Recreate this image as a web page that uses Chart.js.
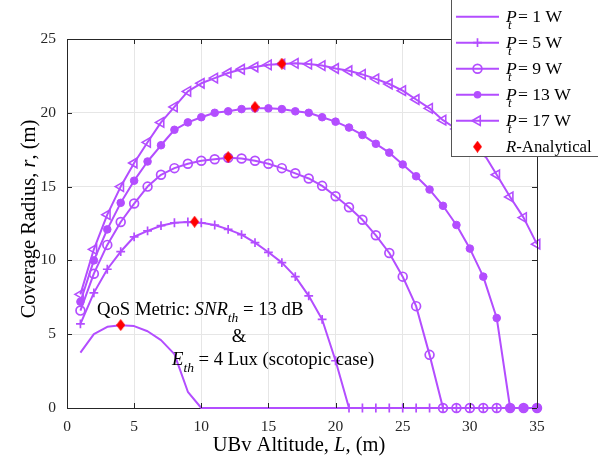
<!DOCTYPE html>
<html>
<head>
<meta charset="utf-8">
<script src="https://cdn.jsdelivr.net/npm/chart.js@4.4.1/dist/chart.umd.min.js"></script>
<style>
html,body{margin:0;padding:0;background:#ffffff;}
#wrap{width:598px;height:457px;position:relative;}
canvas{display:block;}
</style>
</head>
<body>
<div id="wrap"><canvas id="c" width="598" height="457"></canvas></div>
<script>
// ---- data ----
const altitude = [1,2,3,4,5,6,7,8,9,10,11,12,13,14,15,16,17,18,19,20,21,22,23,24,25,26,27,28,29,30,31,32,33,34,35];
const radiusP1 = [3.75,5.0,5.5,5.6,5.55,5.2,4.6,3.65,1.1,0,0,0,0,0,0,0,0,0,0,0,0,0,0,0,0,0,0,0,0,0,0,0,0,0,0];
const radiusP5 = [5.7,7.8,9.4,10.6,11.6,12.0,12.35,12.55,12.6,12.55,12.4,12.1,11.75,11.2,10.55,9.85,8.9,7.6,6.0,3.2,0,0,0,0,0,0,0,0,0,0,0,0,0,0,0];
const radiusP9 = [6.6,9.1,11.05,12.6,13.85,15.0,15.8,16.25,16.55,16.75,16.85,16.95,16.9,16.75,16.55,16.25,15.9,15.55,15.05,14.35,13.6,12.75,11.7,10.5,8.9,6.9,3.6,0,0,0,0,0,0,0,0];
const radiusP13 = [7.2,10.0,12.1,13.9,15.4,16.7,17.8,18.85,19.35,19.7,20.0,20.1,20.25,20.3,20.3,20.25,20.1,20.0,19.7,19.4,19.0,18.5,17.9,17.3,16.5,15.7,14.8,13.7,12.4,10.8,8.9,6.1,0,0,0];
const radiusP17 = [7.7,10.75,13.1,15.0,16.6,18.0,19.35,20.4,21.45,22.0,22.35,22.7,22.95,23.1,23.25,23.3,23.35,23.3,23.2,23.0,22.85,22.6,22.3,21.95,21.5,20.9,20.3,19.5,18.9,18.2,17.3,15.8,14.3,12.9,11.1];
const analyticalL = [4, 9.5, 12, 14, 16];
const analyticalR = [5.62, 12.62, 17.0, 20.4, 23.33];
const powerLabels = ['1 W','5 W','9 W','13 W','17 W'];
const xTicks = [0,5,10,15,20,25,30,35];
const yTicks = [0,5,10,15,20,25];

// ---- styling ----
const purple = '#b34dff';
const FONT = '"Liberation Serif", "Times New Roman", serif';

function pts(xs, ys){ return xs.map((x,i)=>({x:x, y:ys[i]})); }

function makeDiamond(){
  const c = document.createElement('canvas');
  c.width = 9; c.height = 12;
  const g = c.getContext('2d');
  g.fillStyle = '#ff0000';
  g.beginPath();
  g.moveTo(4.5,0); g.lineTo(9,6); g.lineTo(4.5,12); g.lineTo(0,6); g.closePath();
  g.fill();
  return c;
}
const diamond = makeDiamond();

const common = {showLine:true, borderColor:purple, borderWidth:2, pointBorderColor:purple, clip:false, tension:0};

const datasets = [
  Object.assign({}, common, {label:'P1', data:pts(altitude, radiusP1), pointRadius:0, order:6}),
  Object.assign({}, common, {label:'P5', data:pts(altitude, radiusP5), pointStyle:'cross', pointRadius:4.4, pointBorderWidth:1.7, order:5}),
  Object.assign({}, common, {label:'P9', data:pts(altitude, radiusP9), pointStyle:'circle', pointRadius:4.4, pointBorderWidth:1.7, pointBackgroundColor:'rgba(0,0,0,0)', order:4}),
  Object.assign({}, common, {label:'P13', data:pts(altitude, radiusP13), pointStyle:'circle', pointRadius:3.8, pointBorderWidth:1, pointBackgroundColor:purple, order:3}),
  Object.assign({}, common, {label:'P17', data:pts(altitude, radiusP17), pointStyle:'triangle', pointRotation:-90, pointRadius:5.5, pointBorderWidth:1.6, pointBackgroundColor:'rgba(0,0,0,0)', order:2}),
  {label:'R', data:pts(analyticalL, analyticalR), showLine:false, pointStyle:diamond, pointRadius:6, clip:false, order:1}
];

function richText(ctx, x, y, parts, size){
  let cx = x;
  for (const p of parts){
    const fs = p.sub ? size*0.72 : size;
    ctx.font = (p.i ? 'italic ' : '') + fs.toFixed(1) + 'px ' + FONT;
    if (p.at !== undefined) cx = p.at;
    const dy = p.sub ? size*0.40 : 0;
    ctx.fillText(p.t, cx, y + dy);
    cx += ctx.measureText(p.t).width;
  }
  return cx;
}
function richWidth(ctx, parts, size){
  let w = 0;
  for (const p of parts){
    const fs = p.sub ? size*0.72 : size;
    ctx.font = (p.i ? 'italic ' : '') + fs.toFixed(1) + 'px ' + FONT;
    w += ctx.measureText(p.t).width;
  }
  return w;
}

function legendMarker(ctx, kind, x, y){
  ctx.save();
  ctx.strokeStyle = purple; ctx.fillStyle = purple;
  if (kind === 'cross'){
    ctx.lineWidth = 1.7; ctx.beginPath();
    ctx.moveTo(x-4.4,y); ctx.lineTo(x+4.4,y); ctx.moveTo(x,y-4.4); ctx.lineTo(x,y+4.4); ctx.stroke();
  } else if (kind === 'open'){
    ctx.lineWidth = 1.7; ctx.beginPath(); ctx.arc(x,y,4.4,0,Math.PI*2); ctx.stroke();
  } else if (kind === 'filled'){
    ctx.beginPath(); ctx.arc(x,y,3.8,0,Math.PI*2); ctx.fill();
  } else if (kind === 'tri'){
    const r = 5.5; ctx.lineWidth = 1.6; ctx.beginPath();
    for (let k=0;k<3;k++){
      const a = Math.PI + k*2*Math.PI/3;
      const px = x + Math.cos(a)*r, py = y + Math.sin(a)*r;
      if (k===0) ctx.moveTo(px,py); else ctx.lineTo(px,py);
    }
    ctx.closePath(); ctx.stroke();
  } else if (kind === 'diamond'){
    ctx.drawImage(diamond, x-4.5, y-6);
  }
  ctx.restore();
}

const deco = {
  id:'deco',
  afterDraw(chart){
    const ctx = chart.ctx, a = chart.chartArea, xs = chart.scales.x, ys = chart.scales.y;
    ctx.save();
    // box top & right
    ctx.strokeStyle = '#262626'; ctx.lineWidth = 1;
    ctx.beginPath();
    ctx.moveTo(a.left, a.top+0.5); ctx.lineTo(a.right+0.5, a.top+0.5); ctx.lineTo(a.right+0.5, a.bottom);
    ctx.stroke();
    // inner ticks
    ctx.beginPath();
    xTicks.forEach(v=>{
      const px = Math.round(xs.getPixelForValue(v))+0.5;
      ctx.moveTo(px, a.bottom); ctx.lineTo(px, a.bottom-5);
      ctx.moveTo(px, a.top); ctx.lineTo(px, a.top+5);
    });
    yTicks.forEach(v=>{
      const py = Math.round(ys.getPixelForValue(v))+0.5;
      ctx.moveTo(a.left, py); ctx.lineTo(a.left+5, py);
      ctx.moveTo(a.right, py); ctx.lineTo(a.right-5, py);
    });
    ctx.stroke();

    // annotation
    ctx.fillStyle = '#000000';
    ctx.textBaseline = 'alphabetic';
    ctx.textAlign = 'left';
    const S = 18.7;
    richText(ctx, 97, 315, [{t:'QoS Metric: '},{t:'SNR',i:true},{t:'th',i:true,sub:true},{t:' = 13 dB'}], S);
    ctx.font = S+'px '+FONT; ctx.textAlign='center';
    ctx.fillText('&', 239, 342);
    ctx.textAlign='left';
    richText(ctx, 172, 365, [{t:'E',i:true},{t:'th',i:true,sub:true},{t:' = 4 Lux (scotopic case)'}], S);

    // axis titles
    const LF = 20.5;
    const xl = [{t:'UBv Altitude, '},{t:'L',i:true},{t:', (m)'}];
    const xw = richWidth(ctx, xl, LF);
    richText(ctx, 299 - xw/2, 451, xl, LF);
    const yl = [{t:'Coverage Radius, '},{t:'r',i:true},{t:', (m)'}];
    const yw = richWidth(ctx, yl, LF);
    ctx.save();
    ctx.translate(35, 219);
    ctx.rotate(-Math.PI/2);
    richText(ctx, -yw/2, 0, yl, LF);
    ctx.restore();

    // legend
    ctx.fillStyle = '#ffffff';
    ctx.fillRect(452, -1, 147, 157);
    ctx.strokeStyle = '#555555'; ctx.lineWidth = 1;
    ctx.strokeRect(451.5, -1.5, 150, 158);
    const kinds = [null,'cross','open','filled','tri'];
    const LS = 17.6;
    for (let i=0;i<5;i++){
      const y = 16.7 + 26*i;
      ctx.strokeStyle = purple; ctx.lineWidth = 2;
      ctx.beginPath(); ctx.moveTo(456, y); ctx.lineTo(499, y); ctx.stroke();
      if (kinds[i]) legendMarker(ctx, kinds[i], 477.5, y);
      ctx.fillStyle = '#000000';
      richText(ctx, 506, y+5, [{t:'P',i:true},{t:'t',i:true,sub:true,at:508},{t:'= '+powerLabels[i],at:518}], LS);
    }
    const yR = 146.7;
    legendMarker(ctx, 'diamond', 477.5, yR);
    ctx.fillStyle = '#000000';
    richText(ctx, 506, yR+5, [{t:'R',i:true},{t:'-Analytical'}], 16.8);
    ctx.restore();
  }
};

new Chart(document.getElementById('c'), {
  type:'scatter',
  data:{datasets:datasets},
  options:{
    responsive:false,
    animation:false,
    devicePixelRatio:1,
    layout:{padding:{left:0, right:61, top:39, bottom:0}},
    plugins:{legend:{display:false}, tooltip:{enabled:false}},
    elements:{line:{borderJoinStyle:'round'}},
    scales:{
      x:{
        type:'linear', min:0, max:35,
        afterBuildTicks(s){ s.ticks = xTicks.map(v=>({value:v})); },
        afterFit(s){ s.height = 49; },
        grid:{color:'#e6e6e6', drawTicks:false, lineWidth:1},
        border:{color:'#262626', width:1},
        ticks:{color:'#262626', padding:10, maxRotation:0, font:{family:'Liberation Serif', size:15.5}}
      },
      y:{
        type:'linear', min:0, max:25,
        afterBuildTicks(s){ s.ticks = yTicks.map(v=>({value:v})); },
        afterFit(s){ s.width = 67; },
        grid:{color:'#e6e6e6', drawTicks:false, lineWidth:1},
        border:{color:'#262626', width:1},
        ticks:{color:'#262626', padding:11, font:{family:'Liberation Serif', size:15.5}}
      }
    }
  },
  plugins:[deco]
});
</script>
</body>
</html>
